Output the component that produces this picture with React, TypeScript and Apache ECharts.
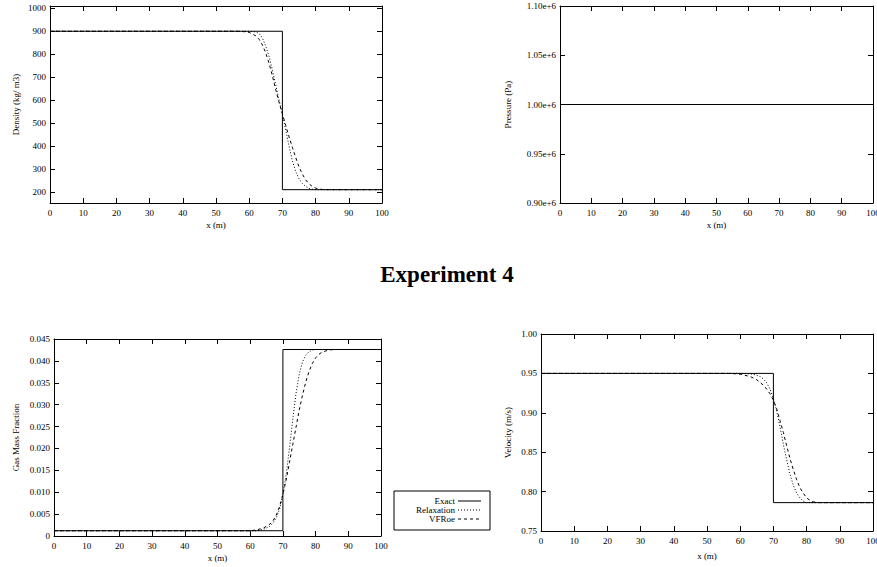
import React, { useEffect, useRef } from "react";
import * as echarts from "echarts";

const FONT = "'Liberation Serif', 'Times New Roman', serif";

const TITLE = "Experiment 4";
const X_NAME = "x (m)";
const LEGEND_NAMES = ["Exact", "Relaxation", "VFRoe"];

// ---- Density (kg/ m3) ----
const densityExact = [[0, 900], [70, 900], [70, 210], [100, 210]];
const densityRelaxation = [
  [0, 900], [60, 900], [62, 897], [63, 890], [64, 870], [65, 835], [66, 790], [67, 730],
  [68, 665], [69, 600], [70, 540], [71, 470], [72, 400], [73, 335], [74, 290], [75, 258],
  [76, 237], [77, 224], [78, 216], [79, 212], [80, 210], [100, 210],
];
const densityVFRoe = [
  [0, 900], [56, 900], [58, 899], [60, 895], [62, 880], [63, 865], [64, 840], [65, 805],
  [66, 760], [67, 705], [68, 645], [69, 590], [70, 540], [71, 490], [72, 440], [73, 395],
  [74, 350], [75, 310], [76, 278], [77, 253], [78, 236], [79, 224], [80, 217], [81, 213],
  [82, 211], [84, 210], [100, 210],
];
const densityTicks = [200, 300, 400, 500, 600, 700, 800, 900, 1000];

// ---- Pressure (Pa) ----
const pressureExact = [[0, 1.0e6], [100, 1.0e6]];
const pressureRelaxation = [[0, 1.0e6], [100, 1.0e6]];
const pressureVFRoe = [[0, 1.0e6], [100, 1.0e6]];

// ---- Gas Mass Fraction ----
const gasExact = [[0, 0.0012], [70, 0.0012], [70, 0.0426], [100, 0.0426]];
const gasRelaxation = [
  [0, 0.0012], [62, 0.0012], [64, 0.0015], [66, 0.0022], [67, 0.003], [68, 0.0042],
  [69, 0.0062], [70, 0.0095], [71, 0.014], [72, 0.02], [73, 0.0265], [74, 0.0325],
  [75, 0.037], [76, 0.0398], [77, 0.0413], [78, 0.0421], [79, 0.0425], [80, 0.0426],
  [100, 0.0426],
];
const gasVFRoe = [
  [0, 0.0012], [60, 0.0012], [62, 0.0014], [64, 0.0018], [66, 0.0027], [67, 0.0035],
  [68, 0.0048], [69, 0.0068], [70, 0.0095], [71, 0.0128], [72, 0.0168], [73, 0.0208],
  [74, 0.0248], [75, 0.0288], [76, 0.0322], [77, 0.0352], [78, 0.0376], [79, 0.0394],
  [80, 0.0407], [81, 0.0415], [82, 0.042], [84, 0.0425], [86, 0.0426], [100, 0.0426],
];

// ---- Velocity (m/s) ----
const velocityExact = [[0, 0.95], [70, 0.95], [70, 0.786], [100, 0.786]];
const velocityRelaxation = [
  [0, 0.95], [61, 0.95], [64, 0.949], [66, 0.946], [67, 0.943], [68, 0.938], [69, 0.93],
  [70, 0.918], [71, 0.902], [72, 0.882], [73, 0.86], [74, 0.84], [75, 0.822], [76, 0.808],
  [77, 0.798], [78, 0.792], [79, 0.788], [80, 0.786], [100, 0.786],
];
const velocityVFRoe = [
  [0, 0.95], [57, 0.95], [60, 0.949], [63, 0.946], [65, 0.942], [67, 0.935], [68, 0.93],
  [69, 0.924], [70, 0.916], [71, 0.905], [72, 0.89], [73, 0.875], [74, 0.858], [75, 0.842],
  [76, 0.828], [77, 0.815], [78, 0.805], [79, 0.798], [80, 0.792], [81, 0.789], [82, 0.787],
  [84, 0.786], [100, 0.786],
];

const panels = [
  {
    yName: "Density (kg/ m3)",
    series: [densityExact, densityRelaxation, densityVFRoe],
    y: { min: 152, max: 1010, customValues: densityTicks, fmt: (v: number) => String(v) },
    grid: { left: 50, top: 6, width: 332, height: 197 },
    yNameGap: 30, xNameGap: 17,
  },
  {
    yName: "Pressure (Pa)",
    series: [pressureExact, pressureRelaxation, pressureVFRoe],
    y: { min: 900000, max: 1100000, interval: 50000, fmt: (v: number) => (v / 1e6).toFixed(2) + "e+6" },
    grid: { left: 560, top: 6, width: 313, height: 197 },
    yNameGap: 48, xNameGap: 17,
  },
  {
    yName: "Gas Mass Fraction",
    series: [gasExact, gasRelaxation, gasVFRoe],
    y: { min: 0, max: 0.045, interval: 0.005, fmt: (v: number) => (v === 0 ? "0" : v.toFixed(3)) },
    grid: { left: 54, top: 339, width: 327, height: 197 },
    yNameGap: 34, xNameGap: 17,
  },
  {
    yName: "Velocity (m/s)",
    series: [velocityExact, velocityRelaxation, velocityVFRoe],
    y: { min: 0.75, max: 1.0, interval: 0.05, fmt: (v: number) => v.toFixed(2) },
    grid: { left: 541, top: 334, width: 332, height: 197 },
    yNameGap: 29, xNameGap: 20,
  },
];

const lineTypes: any[] = ["solid", [1, 2], [3, 3]];

const textStyle = { fontFamily: FONT, fontSize: 9, color: "#000" };

function tickStyle() {
  return { show: true, inside: true, length: 5, lineStyle: { color: "#000", width: 1 } };
}

export default function App() {
  const ref = useRef<HTMLDivElement>(null);
  useEffect(() => {
    if (!ref.current) return;
    const chart = echarts.init(ref.current, null, { renderer: "svg" });
    const grids: any[] = [];
    const xAxes: any[] = [];
    const yAxes: any[] = [];
    const series: any[] = [];
    const axisLine = { show: true, onZero: false, lineStyle: { color: "#000", width: 1 } };
    panels.forEach((p, i) => {
      grids.push({ ...p.grid, show: false, containLabel: false, outerBoundsMode: "none" });
      const xBase = {
        type: "value", gridIndex: i, min: 0, max: 100, interval: 10,
        axisLine, splitLine: { show: false },
      };
      xAxes.push({
        ...xBase, position: "bottom", axisTick: tickStyle(),
        axisLabel: { ...textStyle, margin: 5, hideOverlap: false },
        name: X_NAME, nameLocation: "middle", nameGap: p.xNameGap, nameTextStyle: textStyle,
      });
      xAxes.push({ ...xBase, position: "top", axisTick: tickStyle(), axisLabel: { show: false } });
      const yBase: any = {
        type: "value", gridIndex: i, min: p.y.min, max: p.y.max,
        axisLine, splitLine: { show: false },
      };
      if ((p.y as any).interval) yBase.interval = (p.y as any).interval;
      const cv = (p.y as any).customValues;
      const yTickL: any = tickStyle();
      const yTickR: any = tickStyle();
      if (cv) { yTickL.customValues = cv; yTickR.customValues = cv; }
      yAxes.push({
        ...yBase, position: "left", axisTick: yTickL,
        axisLabel: { ...textStyle, margin: 4, formatter: p.y.fmt, ...(cv ? { customValues: cv } : {}) },
        name: p.yName, nameLocation: "middle", nameGap: p.yNameGap, nameTextStyle: textStyle,
      });
      yAxes.push({ ...yBase, position: "right", axisTick: yTickR, axisLabel: { show: false } });
      p.series.forEach((d, k) => {
        series.push({
          type: "line", name: LEGEND_NAMES[k], xAxisIndex: 2 * i, yAxisIndex: 2 * i,
          data: d, showSymbol: false, symbol: "none", smooth: false,
          lineStyle: { color: "#000", width: 1, type: lineTypes[k] },
          z: k === 0 ? 3 : 2, silent: true,
        });
      });
    });

    const legendX = 394, legendY = 491, rowY = [501, 510, 519];
    const graphic: any[] = [
      {
        type: "text", x: 447, y: 274,
        style: { text: TITLE, fontFamily: FONT, fontSize: 23, fontWeight: "bold", fill: "#000", textAlign: "center", textVerticalAlign: "middle" },
      },
      {
        type: "rect", shape: { x: legendX, y: legendY, width: 96, height: 39 },
        style: { fill: "#fff", stroke: "#000", lineWidth: 1 },
      },
    ];
    LEGEND_NAMES.forEach((n, k) => {
      graphic.push({
        type: "text", x: 455, y: rowY[k],
        style: { text: n, fontFamily: FONT, fontSize: 9, fill: "#000", textAlign: "right", textVerticalAlign: "middle" },
      });
      graphic.push({
        type: "line", shape: { x1: 458, y1: rowY[k], x2: 481, y2: rowY[k] },
        style: { stroke: "#000", lineWidth: 1, lineDash: k === 0 ? null : lineTypes[k] },
      });
    });

    chart.setOption({
      animation: false,
      backgroundColor: "#fff",
      grid: grids,
      xAxis: xAxes,
      yAxis: yAxes,
      series,
      graphic,
    });
    return () => chart.dispose();
  }, []);
  return <div ref={ref} style={{ position: "absolute", left: 0, top: 0, width: 877, height: 567 }} />;
}
